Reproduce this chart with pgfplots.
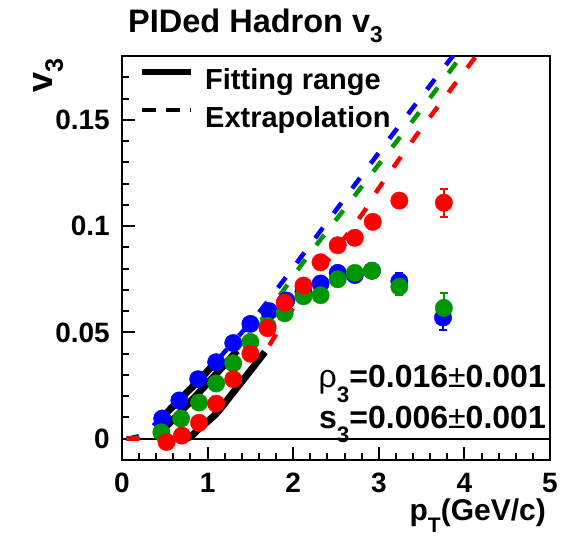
\documentclass[border=0pt]{standalone}
\usepackage{fontspec}
\setmainfont{Liberation Sans}
\usepackage{graphicx}
\usepackage{pgfplots}
\pgfplotsset{compat=1.18}
\definecolor{rblue}{RGB}{0,0,255}
\definecolor{rgreen}{RGB}{0,150,0}
\definecolor{rred}{RGB}{255,0,0}
\newcommand{\fs}[1]{\fontsize{#1}{#1}\selectfont}
\newcommand{\sub}[2][0.3]{\raisebox{-#1em}{\scalebox{0.7}{#2}}}

\pgfplotstableread{
x y e
0.47 0.0095 0.001
0.67 0.018 0.001
0.89 0.028 0.001
1.10 0.036 0.001
1.30 0.045 0.001
1.50 0.054 0.001
1.72 0.060 0.0012
1.92 0.065 0.0012
2.12 0.069 0.0012
2.32 0.073 0.0015
2.52 0.078 0.0015
2.72 0.077 0.0015
2.92 0.079 0.002
3.24 0.074 0.004
3.75 0.057 0.006
}\blue

\pgfplotstableread{
x y e
0.46 0.003 0.001
0.69 0.0095 0.001
0.90 0.017 0.001
1.10 0.026 0.001
1.30 0.0355 0.001
1.50 0.0455 0.001
1.70 0.053 0.0012
1.90 0.059 0.0012
2.12 0.067 0.0012
2.32 0.0675 0.0015
2.52 0.075 0.0015
2.72 0.078 0.0015
2.92 0.079 0.002
3.24 0.0715 0.004
3.76 0.0615 0.007
}\green

\pgfplotstableread{
x y e
0.52 -0.0015 0.001
0.70 0.0015 0.001
0.90 0.0075 0.001
1.10 0.0165 0.001
1.30 0.028 0.001
1.50 0.040 0.001
1.70 0.052 0.0012
1.90 0.064 0.0012
2.12 0.072 0.0012
2.32 0.083 0.0015
2.52 0.091 0.0015
2.72 0.0945 0.0015
2.93 0.102 0.002
3.24 0.112 0.003
3.76 0.111 0.0066
}\red

\begin{document}
\begin{tikzpicture}[x=1pt,y=1pt]
\path[use as bounding box] (0,0) rectangle (569,535);
\begin{axis}[
  at={(122pt,75pt)}, anchor=south west,
  scale only axis, width=428pt, height=404pt,
  xmin=0, xmax=5, ymin=-0.01, ymax=0.18,
  axis line style={line width=2.5pt},
  xtick={0,1,2,3,4,5}, xticklabels={0,1,2,3,4,5},
  minor x tick num=4,
  ytick={0,0.05,0.1,0.15}, yticklabels={0,0.05,0.1,0.15},
  minor ytick={0.01,0.02,0.03,0.04,0.06,0.07,0.08,0.09,0.11,0.12,0.13,0.14,0.16,0.17},
  tick align=inside, xtick pos=bottom, ytick pos=left,
  major tick length=13pt, minor tick length=7pt,
  every tick/.style={line width=2pt, black},
  tick label style={font=\fs{28}\bfseries},
  /pgf/number format/assume math mode=true,
  xticklabel style={anchor=north, inner sep=0pt, yshift=-13pt},
  yticklabel style={anchor=east, inner sep=0pt, xshift=-12pt},
  legend cell align=left,
  legend image code/.code={\draw[#1] (0pt,10pt) -- (49pt,10pt);},
  legend style={draw=none, fill=none, inner sep=0pt, outer sep=0pt,
    at={(rel axis cs:0.039,0.968)}, anchor=north west,
    row sep=11.5pt, column sep=11pt, font=\fs{29}\bfseries,
    nodes={inner sep=0pt, text height=20.5pt, text depth=6pt}},
]
\addlegendimage{black, line width=6.5pt}
\addlegendentry{Fitting range}
\addlegendimage{black, line width=4pt, dash pattern=on 14pt off 10pt}
\addlegendentry{Extrapolation}

\addplot[black, line width=1.8pt, forget plot] coordinates {(0,0) (5,0)};

\addplot[only marks, mark=*, mark size=8.7pt, color=rblue, forget plot,
  error bars/.cd, y dir=both, y explicit,
  error bar style={line width=2pt},
  error mark options={rotate=90, mark size=4pt, line width=2pt}]
  table[x=x, y=y, y error=e] {\blue};
\addplot[only marks, mark=*, mark size=8.7pt, color=rgreen, forget plot,
  error bars/.cd, y dir=both, y explicit,
  error bar style={line width=2pt},
  error mark options={rotate=90, mark size=4pt, line width=2pt}]
  table[x=x, y=y, y error=e] {\green};
\addplot[only marks, mark=*, mark size=8.7pt, color=rred, forget plot,
  error bars/.cd, y dir=both, y explicit,
  error bar style={line width=2pt},
  error mark options={rotate=90, mark size=4pt, line width=2pt}]
  table[x=x, y=y, y error=e] {\red};

% extrapolations
\addplot[rblue, line width=4.5pt, dash pattern=on 13pt off 18pt, smooth, forget plot] coordinates {
(0.05,0) (0.1,0.0003) (0.2,0.0013) (0.3,0.0035) (0.4,0.0075) (0.53,0.0125) (0.7,0.0195) (0.9,0.0275) (1.06,0.0345) (1.3,0.0455) (1.5,0.0545) (1.67,0.063) (2.0,0.0805) (2.5,0.1075) (3.0,0.1345) (3.5,0.161) (4.0,0.187)};
\addplot[rgreen, line width=4.5pt, dash pattern=on 13pt off 18pt, smooth, forget plot] coordinates {
(0.05,0) (0.2,0.0003) (0.3,0.0009) (0.4,0.0022) (0.47,0.0038) (0.7,0.0133) (0.9,0.0218) (1.1,0.0305) (1.345,0.0414) (1.67,0.058) (1.89,0.070) (2.1,0.082) (2.32,0.0937) (2.55,0.1055) (3.0,0.129) (3.5,0.155) (4.0,0.182)};
\addplot[rred, line width=4.5pt, dash pattern=on 13pt off 18pt, smooth, forget plot] coordinates {
(0.05,0) (0.2,0) (0.4,0) (0.6,-0.0006) (0.67,-0.0008) (0.8,0.001) (0.9,0.0047) (1.1,0.0118) (1.3,0.0218) (1.5,0.032) (1.67,0.0408) (1.94,0.058) (2.2,0.0725) (2.5,0.089) (2.83,0.107) (3.02,0.119) (3.5,0.146) (4.1,0.178) (4.3,0.189)};

% fits
\addplot[black, line width=7pt, smooth, forget plot] coordinates {
(0.53,0.0125) (0.7,0.0195) (0.9,0.0275) (1.06,0.0345)};
\addplot[black, line width=7pt, smooth, forget plot] coordinates {
(0.47,0.0038) (0.7,0.0133) (0.9,0.0218) (1.1,0.0305) (1.345,0.0414)};
\addplot[black, line width=7pt, smooth, forget plot] coordinates {
(0.67,-0.0008) (0.8,0.001) (0.9,0.0047) (1.1,0.0118) (1.3,0.0218) (1.5,0.032) (1.67,0.0408)};
\end{axis}
\node[anchor=base west, font=\fs{32.5}\bfseries, inner sep=0pt] at (128,502) {PIDed Hadron v\sub{3}};
\node[rotate=90, anchor=base east, font=\fs{36}\bfseries, inner sep=0pt] at (52,477) {v\sub{3}};
\node[anchor=base east, font=\fs{30}\bfseries, inner sep=0pt] at (546,15) {p\sub[0.4]{T}(GeV/c)};
\node[anchor=base east, font=\fs{32}\bfseries, inner sep=0pt] at (546,147) {{\mdseries ρ}\sub[0.45]{3}=0.016{\mdseries ±}0.001};
\node[anchor=base east, font=\fs{32}\bfseries, inner sep=0pt] at (546,107) {s\sub[0.45]{3}=0.006{\mdseries ±}0.001};
\end{tikzpicture}
\end{document}
